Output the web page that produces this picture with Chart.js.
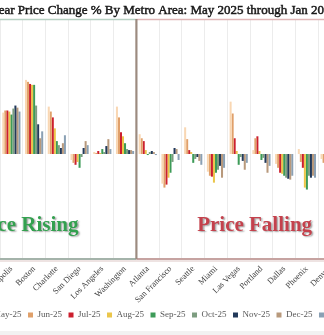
<!DOCTYPE html>
<html><head><meta charset="utf-8">
<script src="https://cdn.jsdelivr.net/npm/chart.js@4.4.1/dist/chart.umd.min.js"></script>
<style>
html,body{margin:0;padding:0;background:#fff;overflow:hidden;width:324px;height:335px;}
#wrap{position:absolute;left:-60px;top:0;width:463px;height:335px;}
canvas{display:block;}
</style></head><body>
<div id="wrap"><canvas id="c" width="463" height="335"></canvas></div>
<script>
const titleText = 'Year Price Change % By Metro Area: May 2025 through Jan 2026';
const metros = ['Minneapolis','Boston','Charlotte','San Diego','Los Angeles','Washington','Atlanta','San Francisco','Seattle','Miami','Las Vegas','Portland','Dallas','Phoenix','Denver'];
const seriesNames = ['May-25','Jun-25','Jul-25','Aug-25','Sep-25','Oct-25','Nov-25','Dec-25','Jan-26'];
const may25 = [2.76,4.94,3.16,-0.40,0.13,3.16,1.32,-1.98,1.78,-1.18,3.49,0.26,-0.66,0.33,-0.33];
const jun25 = [2.90,4.81,2.83,-0.59,0.07,2.44,1.05,-2.24,0.99,-1.45,2.70,1.05,-0.92,-0.53,-0.59];
const jul25 = [2.90,4.67,2.44,-0.72,0.20,1.45,0.86,-2.04,0.26,-1.51,1.05,1.18,-1.25,-0.92,null];
const aug25 = [2.83,4.61,1.71,-0.53,0.07,1.18,0.26,-1.58,0.13,-1.91,0.20,0.20,-1.32,-2.24,null];
const sep25 = [2.63,4.61,0.86,-0.92,0.33,0.72,-0.07,-1.25,-0.59,-1.25,-0.72,-0.40,-1.45,-2.37,null];
const oct25 = [3.03,3.23,0.59,-0.20,0.13,0.33,0.13,-0.53,-0.33,-1.05,-0.20,-0.26,-1.58,-1.45,null];
const nov25 = [3.23,1.98,0.40,0.40,0.53,0.26,0.20,0.40,-0.20,-0.79,-0.46,-0.59,-1.65,-1.58,null];
const dec25 = [3.09,1.05,0.72,0.86,0.99,0.26,0.13,0.33,-0.46,-1.58,-1.05,-1.25,-1.71,-1.45,null];
const jan26 = [2.83,1.51,1.25,0.59,0.33,0.20,-0.07,-0.40,-0.72,-0.92,-0.59,-0.79,-1.45,-1.58,null];
const seriesValues = [may25,jun25,jul25,aug25,sep25,oct25,nov25,dec25,jan26];
const seriesColors = ['#f9d7b3','#e0a06a','#cc1f2e','#ebc64a','#3d9b58','#7d9d80','#22395a','#b8997c','#8aa0b4'];
const yMin = -7, yMax = 9;
const dividerAt = 5.5; // boundary between Washington and Atlanta
const notes = [
  {text:'Price Rising', x:0.55, y:-5.1, color:'#33a04f'},
  {text:'Price Falling', x:10.7, y:-5.1, color:'#c4414c'}
];
const serif = "'Liberation Serif', 'DejaVu Serif', serif";

const panelsPlugin = {
  id:'panels',
  beforeDraw(chart){
    const {ctx,width,height} = chart;
    ctx.save(); ctx.fillStyle='#ffffff'; ctx.fillRect(0,0,width,height);
    ctx.fillStyle='#f2f2f2'; ctx.fillRect(0,height-4,width,4);
    ctx.restore();
  },
  afterDatasetsDraw(chart){
    const {ctx, chartArea:a, scales:{x,y}} = chart;
    const dx = x.getPixelForValue(dividerAt);
    ctx.save();
    ctx.lineWidth = 1.3;
    ctx.strokeStyle = '#b7d0c2';
    ctx.beginPath(); ctx.moveTo(-5, a.top+0.5); ctx.lineTo(dx, a.top+0.5); ctx.stroke();
    ctx.strokeStyle = '#dfb6b6';
    ctx.beginPath(); ctx.moveTo(dx, a.top+0.5); ctx.lineTo(chart.width+5, a.top+0.5); ctx.stroke();
    ctx.lineWidth = 2;
    ctx.strokeStyle = '#a4b3aa';
    ctx.beginPath(); ctx.moveTo(-5, a.bottom); ctx.lineTo(dx, a.bottom); ctx.stroke();
    ctx.strokeStyle = '#c6a3a1';
    ctx.beginPath(); ctx.moveTo(dx, a.bottom); ctx.lineTo(chart.width+5, a.bottom); ctx.stroke();
    ctx.strokeStyle = '#eee3e2';
    ctx.beginPath(); ctx.moveTo(-5, a.bottom+2); ctx.lineTo(chart.width+5, a.bottom+2); ctx.stroke();
    ctx.lineWidth = 2.2;
    ctx.strokeStyle = '#9c8b80';
    ctx.beginPath(); ctx.moveTo(dx, a.top); ctx.lineTo(dx, a.bottom); ctx.stroke();
    ctx.font = "bold 21px " + serif;
    ctx.textAlign = 'center'; ctx.textBaseline = 'alphabetic';
    ctx.shadowColor = 'rgba(0,0,0,0.35)'; ctx.shadowOffsetX = 1.5; ctx.shadowOffsetY = 1.5; ctx.shadowBlur = 1.5;
    notes.forEach(n => {
      ctx.fillStyle = n.color;
      ctx.fillText(n.text, x.getPixelForValue(n.x), y.getPixelForValue(n.y));
    });
    ctx.restore();
  },
  afterDraw(chart){
    const {ctx, chartArea:a} = chart;
    ctx.save();
    ctx.font = "13px " + serif;
    ctx.textAlign = 'left'; ctx.textBaseline = 'alphabetic';
    const x0 = a.left - ctx.measureText('Y').width;
    ctx.fillStyle = '#1a1a1a'; ctx.strokeStyle = '#1a1a1a'; ctx.lineWidth = 0.5;
    ctx.fillText(titleText, x0, 14);
    ctx.strokeText(titleText, x0, 14);
    ctx.restore();
  }
};

new Chart(document.getElementById('c'), {
  type:'bar',
  data:{
    labels: metros,
    datasets: seriesNames.map((n,i)=>({
      label:n, data:seriesValues[i], backgroundColor:seriesColors[i], borderWidth:0,
      barPercentage:1.0, categoryPercentage:0.8
    }))
  },
  options:{
    responsive:false, animation:false, devicePixelRatio:1,
    layout:{padding:{left:0,right:7,top:19,bottom:5.5}},
    plugins:{
      title:{display:false},
      tooltip:{enabled:false},
      legend:{
        position:'bottom', align:'center',
        labels:{boxWidth:5, boxHeight:5, padding:6.5, color:'#595959', font:{family:serif, size:9}}
      }
    },
    scales:{
      x:{
        grid:{color:'#ececec', drawTicks:false, offset:true},
        border:{display:false},
        ticks:{autoSkip:false, minRotation:45, maxRotation:45, padding:5, color:'#404040', font:{family:serif, size:8.5}},
        afterFit(s){ s.height = 45; }
      },
      y:{
        min:yMin, max:yMax, position:'left',
        grid:{display:false}, border:{display:false}, ticks:{display:false},
        afterFit(s){ s.width = 60; }
      },
      yR:{
        type:'linear', position:'right',
        grid:{display:false}, border:{display:false}, ticks:{display:false},
        afterFit(s){ s.width = 55; }
      }
    }
  },
  plugins:[panelsPlugin]
});
</script>
</body></html>
